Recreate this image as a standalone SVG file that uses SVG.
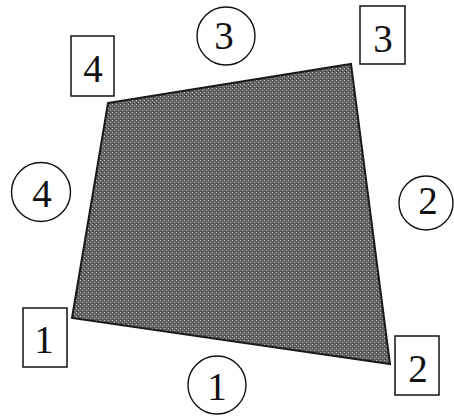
<svg xmlns="http://www.w3.org/2000/svg" width="454" height="416" viewBox="0 0 454 416">
<style>
.box{fill:#fff;stroke:#111;stroke-width:1.5}
.circ{fill:#fff;stroke:#111;stroke-width:1.4}
.lbl{font-family:"Liberation Serif","Times New Roman",serif;font-size:39px;fill:#111;text-anchor:middle}
</style>
<defs>
<pattern id="tex" width="4" height="4" patternUnits="userSpaceOnUse">
<rect width="4" height="4" fill="#626262"/>
<rect x="0" y="0" width="1" height="1" fill="#c0c0c0"/>
<rect x="2" y="2" width="1" height="1" fill="#b0b0b0"/>
<rect x="1" y="3" width="1" height="1" fill="#303030"/>
</pattern>
</defs>
<g id="quad">
<polygon points="108,103 351,64 390,364 72,318" fill="url(#tex)" stroke="#1a1a1a" stroke-width="2"/>
</g>
<g id="corner4"><rect class="box" x="71" y="36" width="43" height="60"/><text class="lbl" x="93" y="82">4</text></g>
<g id="corner3"><rect class="box" x="360" y="6" width="45" height="58"/><text class="lbl" x="383" y="52">3</text></g>
<g id="corner1"><rect class="box" x="23" y="308" width="44" height="59"/><text class="lbl" x="44" y="353">1</text></g>
<g id="corner2"><rect class="box" x="395" y="336" width="44" height="59"/><text class="lbl" x="418" y="382">2</text></g>
<g id="edge3"><circle class="circ" cx="226" cy="36" r="29"/><text class="lbl" x="224" y="49">3</text></g>
<g id="edge4"><circle class="circ" cx="41" cy="192" r="29.5"/><text class="lbl" x="42" y="207">4</text></g>
<g id="edge2"><circle class="circ" cx="426" cy="203" r="27"/><text class="lbl" x="428" y="214">2</text></g>
<g id="edge1"><circle class="circ" cx="217" cy="385" r="29"/><text class="lbl" x="217" y="400">1</text></g>
</svg>
